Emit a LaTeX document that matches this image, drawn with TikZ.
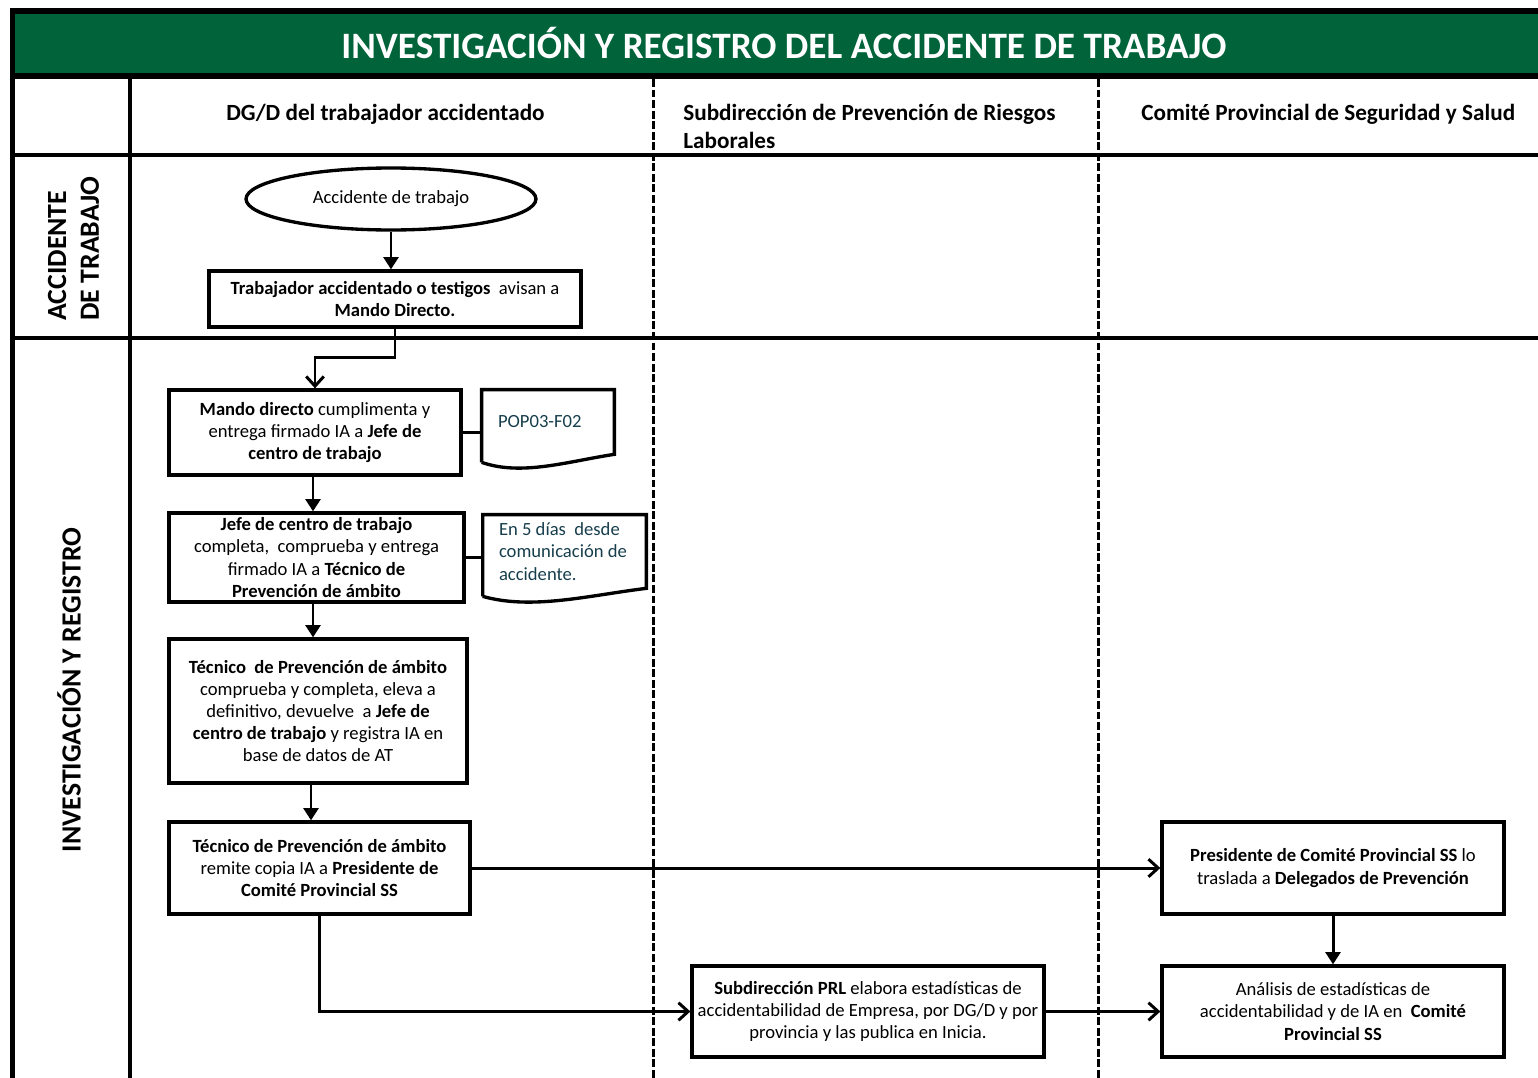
\documentclass[tikz,border=0pt]{standalone}
\usepackage{fontspec}
\setmainfont{Carlito}
\usepackage{xcolor}
\usepackage{tikz}
\usetikzlibrary{arrows.meta}
\usetikzlibrary{shapes.geometric}
\usetikzlibrary{calc}

\definecolor{titlegreen}{RGB}{0,99,58}
\definecolor{doctext}{RGB}{23,62,76}
\newcommand{\flowfont}{\fontsize{10.6}{12.6}\selectfont}
\newcommand{\lanefont}{\fontsize{13.2}{16}\selectfont\bfseries}
\newcommand{\rowfont}{\fontsize{15.8}{18.7}\selectfont\bfseries}
\newcommand{\docoutline}[1]{%
  \draw[boxline] ($(#1.south west)+(0,8)$) -- (#1.north west) -- (#1.north east) -- (#1.south east)
    .. controls ($(#1.south east)!0.35!(#1.south west)+(0,7)$) and ($(#1.south east)!0.7!(#1.south west)+(0,22)$) .. ($(#1.south west)+(0,8)$);}

\tikzset{
  boxline/.style={line width=1.9pt},
  flowbox/.style={draw, line width=1.9pt, align=center, font=\flowfont, inner sep=2pt},
  docnote/.style={align=flush left, font=\flowfont, text=doctext, inner xsep=0.32cm, inner ysep=0pt, minimum height=#1},
  tri/.style={line width=1.7pt, -{Triangle[length=7pt,width=8.5pt]}},
  barb/.style={line width=1.7pt, -{Straight Barb[length=5.5pt,width=10pt]}},
  link/.style={line width=1.7pt},
  laneline/.style={line width=1.7pt, dash pattern=on 4.5pt off 1.5pt},
  frameline/.style={line width=2.6pt},
}

\begin{document}
\begin{tikzpicture}[x=0.02cm, y=-0.02cm]
        \useasboundingbox (0, 0) rectangle (1538, 1078);

        \fill[black] (10, 8) rectangle (1538, 79);
        \fill[titlegreen] (15, 14) rectangle (1538, 73);
        \node[text=white, font=\fontsize{21.2}{24}\selectfont\bfseries] (title) at (784, 43)
            {INVESTIGACIÓN Y REGISTRO DEL ACCIDENTE DE TRABAJO};

        \draw[frameline] (12.5, 77) -- (12.5, 1078);
        \draw[frameline] (130, 77) -- (130, 1078);
        \draw[frameline] (12, 155) -- (1538, 155);
        \draw[frameline] (12, 338) -- (1538, 338);
        \draw[laneline] (653, 79) -- (653, 1078);
        \draw[laneline] (1098, 79) -- (1098, 1078);

        \node[font=\lanefont, anchor=north, inner sep=0pt] (laneA) at (385.5, 104)
            {DG/D del trabajador accidentado};
        \node[font=\lanefont, anchor=north west, align=left, inner sep=0pt] (laneB) at (683, 104)
            {Subdirección de Prevención de Riesgos\\Laborales};
        \node[font=\lanefont, anchor=north west, inner sep=0pt] (laneC) at (1141, 104)
            {Comité Provincial de Seguridad y Salud};

        \node[font=\rowfont, rotate=90, align=left, anchor=west, inner sep=0pt]
            (rowA) at (73.5, 321) {ACCIDENTE\\DE TRABAJO};
        \node[font=\rowfont, rotate=90, inner sep=0pt]
            (rowB) at (69, 690) {INVESTIGACIÓN Y REGISTRO};

        \node[draw, ellipse, line width=1.9pt, font=\flowfont, minimum width=5.8cm, minimum height=1.24cm]
            (start) at (391, 199) {Accidente de trabajo};
        \node[flowbox, minimum width=7.44cm, minimum height=1.12cm] (aviso) at (395, 299)
            {\textbf{Trabajador accidentado o testigos}\ \ avisan a\\\textbf{Mando Directo.}};
        \node[flowbox, minimum width=5.84cm, minimum height=1.7cm] (mando) at (315, 432.5)
            {\textbf{Mando directo} cumplimenta y\\entrega firmado IA a \textbf{Jefe de}\\\textbf{centro de trabajo}};
        \node[flowbox, minimum width=5.9cm, minimum height=1.78cm] (jefe) at (316.5, 557.5)
            {\textbf{Jefe de centro de trabajo}\\completa,\ \ comprueba y entrega\\firmado IA a \textbf{Técnico de}\\\textbf{Prevención de ámbito}};
        \node[flowbox, minimum width=5.96cm, minimum height=2.88cm] (tecnico) at (318, 711)
            {\textbf{Técnico\ \ de Prevención de ámbito}\\comprueba y completa, eleva a\\definitivo, devuelve\ \ a \textbf{Jefe de}\\\textbf{centro de trabajo} y registra IA en\\base de datos de AT};
        \node[flowbox, minimum width=6.02cm, minimum height=1.84cm] (remite) at (319.5, 868)
            {\textbf{Técnico de Prevención de ámbito}\\remite copia IA a \textbf{Presidente de}\\\textbf{Comité Provincial SS}};
        \node[flowbox, minimum width=6.84cm, minimum height=1.84cm] (presidente) at (1333, 868)
            {\textbf{Presidente de Comité Provincial SS} lo\\traslada a \textbf{Delegados de Prevención}};
        \node[flowbox, minimum width=7.04cm, minimum height=1.82cm] (estad) at (868, 1011.5)
            {\textbf{Subdirección PRL} elabora estadísticas de\\accidentabilidad de Empresa, por DG/D y por\\provincia y las publica en Inicia.};
        \node[flowbox, minimum width=6.84cm, minimum height=1.82cm] (analisis) at (1333, 1011.5)
            {Análisis de estadísticas de\\accidentabilidad y de IA en\ \ \textbf{Comité}\\\textbf{Provincial SS}};

        \node[docnote=1.28cm, text width=2.0cm] (pop) at (548, 422) {POP03-F02};
        \node[docnote=1.46cm, text width=2.62cm] (plazo) at (564.5, 551.5)
            {En 5 días\ \ desde\\comunicación de\\accidente.};
        \docoutline{pop}
        \docoutline{plazo}

        \draw[tri] (start.south) -- (aviso.north -| start.south);
        \draw[barb] (aviso.south) -- ++(0, 29) -| (mando.north);
        \draw[link] (mando.east) -- (pop.west |- mando.east);
        \draw[tri] ([xshift=-0.04cm]mando.south) -- ([xshift=-0.04cm]mando.south |- jefe.north);
        \draw[link] (jefe.east) -- (plazo.west |- jefe.east);
        \draw[tri] ([xshift=-0.07cm]jefe.south) -- ([xshift=-0.07cm]jefe.south |- tecnico.north);
        \draw[tri] ([xshift=-0.14cm]tecnico.south) -- ([xshift=-0.14cm]tecnico.south |- remite.north);
        \draw[barb] (remite.east) -- (presidente.west);
        \draw[barb] (remite.south) |- (estad.west);
        \draw[tri] (presidente.south) -- (analisis.north);
        \draw[barb] (estad.east) -- (analisis.west);
\end{tikzpicture}
\end{document}
